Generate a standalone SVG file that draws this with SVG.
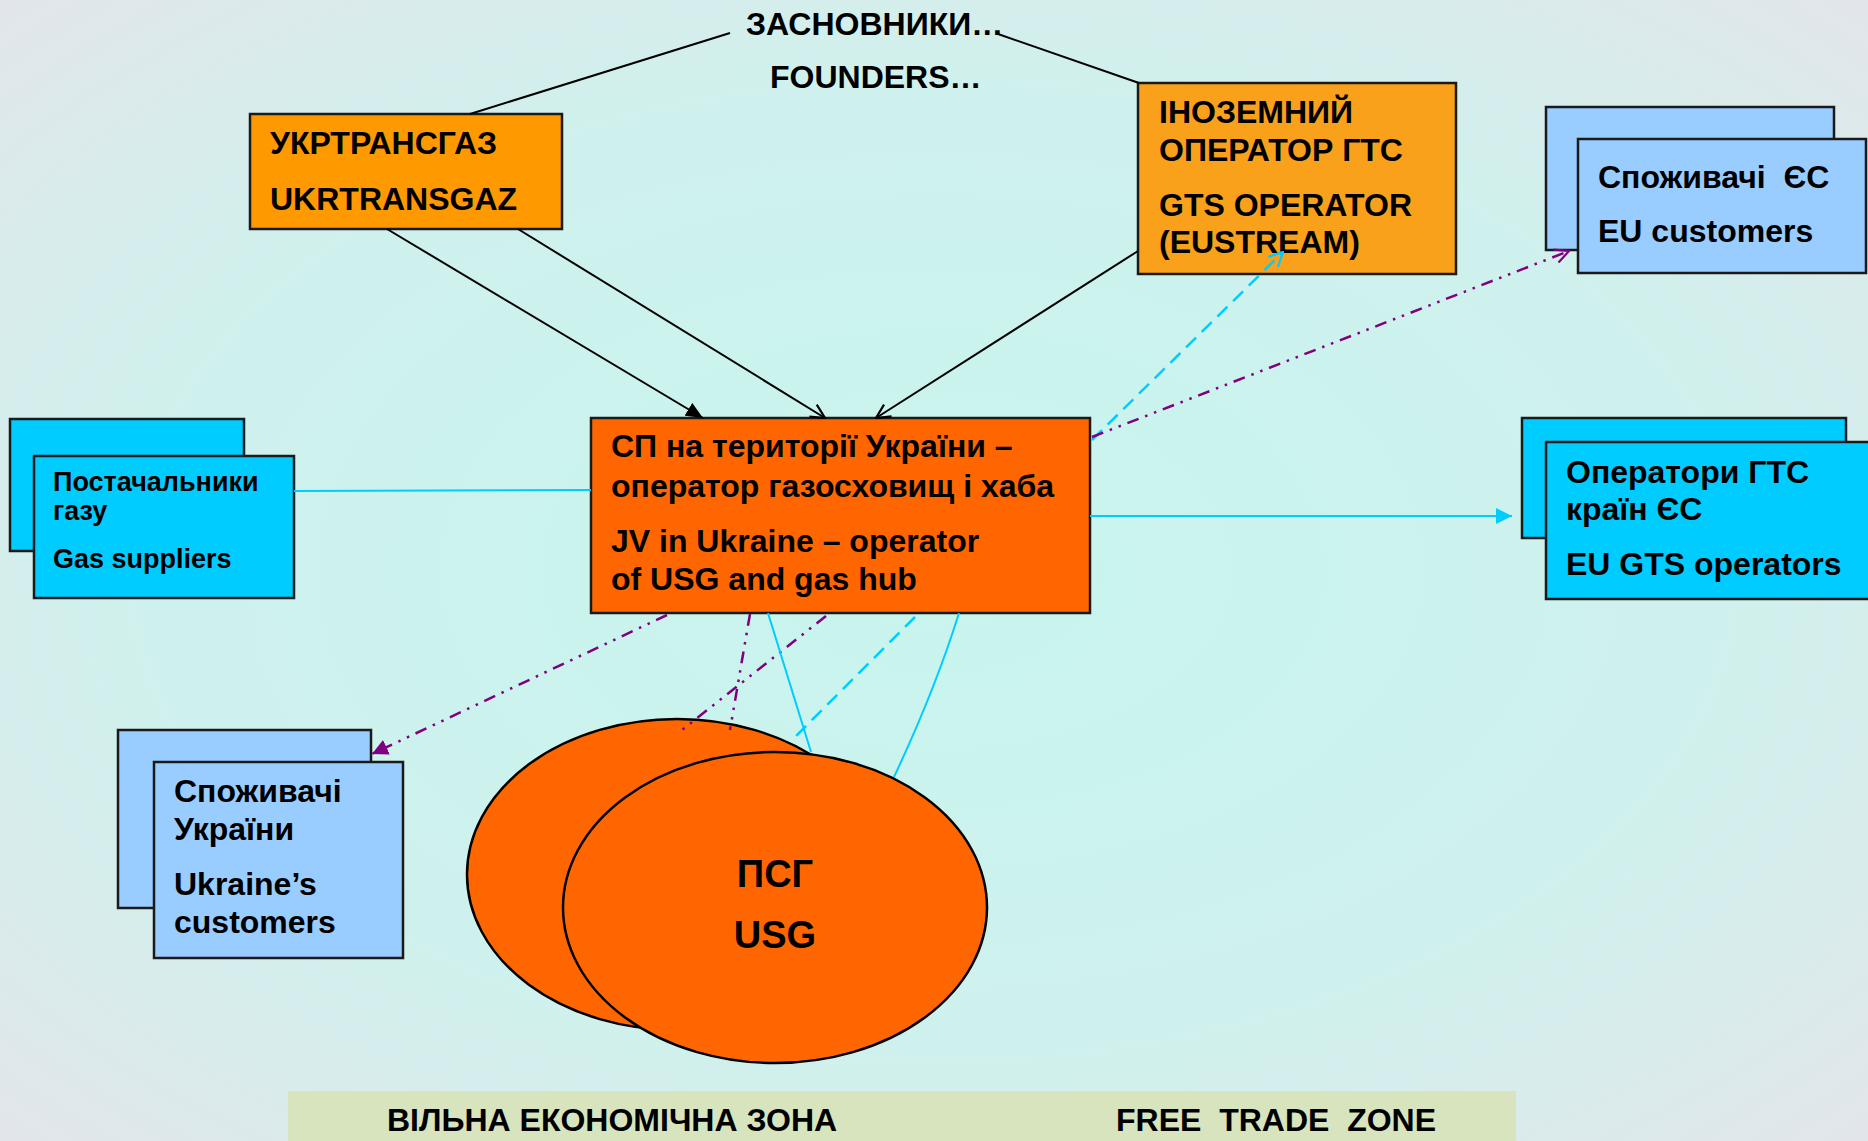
<svg xmlns="http://www.w3.org/2000/svg" width="1868" height="1141" viewBox="0 0 1868 1141">
<defs>
<radialGradient id="bg" cx="50%" cy="50%" r="70%">
<stop offset="0" stop-color="#c8f5ee"/>
<stop offset="0.6" stop-color="#cff1ed"/>
<stop offset="1" stop-color="#e2e6ea"/>
</radialGradient>
<marker id="fBlack" viewBox="0 0 16 14" refX="16" refY="7" markerWidth="17" markerHeight="15" orient="auto" markerUnits="userSpaceOnUse"><path d="M0,0 L16,7 L0,14 Z" fill="#000"/></marker>
<marker id="oBlack" viewBox="0 0 16 16" refX="15" refY="8" markerWidth="16" markerHeight="16" orient="auto" markerUnits="userSpaceOnUse"><path d="M1,1 L15,8 L1,15" fill="none" stroke="#000" stroke-width="2.2"/></marker>
<marker id="fCyan" viewBox="0 0 16 16" refX="16" refY="8" markerWidth="16" markerHeight="16" orient="auto" markerUnits="userSpaceOnUse"><path d="M0,0 L16,8 L0,16 Z" fill="#00ccff"/></marker>
<marker id="oCyan" viewBox="0 0 16 16" refX="15" refY="8" markerWidth="16" markerHeight="16" orient="auto" markerUnits="userSpaceOnUse"><path d="M1,1 L15,8 L1,15" fill="none" stroke="#00ccff" stroke-width="2.2"/></marker>
<marker id="oPurple" viewBox="0 0 16 16" refX="15" refY="8" markerWidth="16" markerHeight="16" orient="auto" markerUnits="userSpaceOnUse"><path d="M1,1 L15,8 L1,15" fill="none" stroke="#800080" stroke-width="2.2"/></marker>
<marker id="fPurple" viewBox="0 0 16 16" refX="16" refY="8" markerWidth="16" markerHeight="16" orient="auto" markerUnits="userSpaceOnUse"><path d="M0,0 L16,8 L0,16 Z" fill="#800080"/></marker>
</defs>
<style>
text{font-family:"Liberation Sans",Arial,sans-serif;font-weight:bold;fill:#000;white-space:pre}
.box{stroke:#1a1a1a;stroke-width:2.5}
.orange{fill:#ff9900}
.orange2{fill:#f9a11b}
.red{fill:#ff6600}
.blue{fill:#99ccff}
.cyan{fill:#00ccff}
.t32{font-size:32px}
.t27{font-size:27px}
.t38{font-size:38px}
.blk{stroke:#000;stroke-width:2;fill:none}
.cy{stroke:#00ccff;stroke-width:2;fill:none}
.cyd{stroke:#00ccff;stroke-width:2.5;fill:none;stroke-dasharray:14 8}
.pu{stroke:#800080;stroke-width:2.5;fill:none;stroke-dasharray:12 7 2.5 7 2.5 7}
</style>
<rect x="0" y="0" width="1868" height="1141" fill="url(#bg)"/>

<g id="title">
<text class="t32" x="746" y="35">ЗАСНОВНИКИ…</text>
<text class="t32" x="770" y="88">FOUNDERS…</text>
</g>

<g id="ukrtransgaz">
<rect class="box orange" x="250" y="114" width="312" height="115"/>
<text class="t32" x="270" y="154">УКРТРАНСГАЗ</text>
<text class="t32" x="270" y="210">UKRTRANSGAZ</text>
</g>

<g id="eustream">
<rect class="box orange2" x="1138" y="83" width="318" height="191"/>
<text class="t32" x="1159" y="123">ІНОЗЕМНИЙ</text>
<text class="t32" x="1159" y="161">ОПЕРАТОР ГТС</text>
<text class="t32" x="1159" y="216">GTS OPERATOR</text>
<text class="t32" x="1159" y="253">(EUSTREAM)</text>
</g>

<g id="eu-customers">
<rect class="box blue" x="1546" y="107" width="288" height="143"/>
<rect class="box blue" x="1578" y="139" width="288" height="134"/>
<text class="t32" x="1598" y="188">Споживачі  ЄС</text>
<text class="t32" x="1598" y="242">EU customers</text>
</g>

<g id="gas-suppliers">
<rect class="box cyan" x="10" y="419" width="234" height="132"/>
<rect class="box cyan" x="34" y="456" width="260" height="142"/>
<text class="t27" x="53" y="491">Постачальники</text>
<text class="t27" x="53" y="520">газу</text>
<text class="t27" x="53" y="568">Gas suppliers</text>
</g>

<g id="jv">
<rect class="box red" x="591" y="418" width="499" height="195"/>
<text class="t32" x="611" y="457">СП на території України –</text>
<text class="t32" x="611" y="497">оператор газосховищ і хаба</text>
<text class="t32" x="611" y="552">JV in Ukraine – operator</text>
<text class="t32" x="611" y="590">of USG and gas hub</text>
</g>

<g id="eu-gts-operators">
<rect class="box cyan" x="1522" y="418" width="324" height="120"/>
<rect class="box cyan" x="1546" y="442" width="324" height="157"/>
<text class="t32" x="1566" y="483">Оператори ГТС</text>
<text class="t32" x="1566" y="520">країн ЄС</text>
<text class="t32" x="1566" y="575">EU GTS operators</text>
</g>

<g id="ukraine-customers">
<rect class="box blue" x="118" y="730" width="253" height="178"/>
<rect class="box blue" x="154" y="762" width="249" height="196"/>
<text class="t32" x="174" y="802">Споживачі</text>
<text class="t32" x="174" y="840">України</text>
<text class="t32" x="174" y="895">Ukraine’s</text>
<text class="t32" x="174" y="933">customers</text>
</g>

<g id="usg">
<ellipse class="red" cx="677" cy="874.5" rx="210" ry="155.5" stroke="#000" stroke-width="2.5"/>
<ellipse class="red" cx="775" cy="907.5" rx="212" ry="155.5" stroke="#000" stroke-width="2.5"/>
<text class="t38" x="775" y="887" text-anchor="middle">ПСГ</text>
<text class="t38" x="775" y="948" text-anchor="middle">USG</text>
</g>

<g id="free-trade-zone">
<rect x="288" y="1091" width="1228" height="52" fill="#d7e4bd"/>
<text class="t32" x="387" y="1131">ВІЛЬНА ЕКОНОМІЧНА ЗОНА</text>
<text class="t32" x="1116" y="1131">FREE  TRADE  ZONE</text>
</g>

<g id="connectors">
<line class="blk" x1="730" y1="33" x2="470" y2="114"/>
<line class="blk" x1="998" y1="34" x2="1139" y2="83"/>
<line class="blk" x1="387" y1="229" x2="703" y2="418" marker-end="url(#fBlack)"/>
<line class="blk" x1="518" y1="229" x2="825" y2="418" marker-end="url(#oBlack)"/>
<line class="blk" x1="1138" y1="251" x2="876" y2="418" marker-end="url(#oBlack)"/>
<line class="cy" x1="294" y1="491" x2="591" y2="490"/>
<line class="cy" x1="1090" y1="516" x2="1512" y2="516" marker-end="url(#fCyan)"/>
<line class="cyd" x1="1092" y1="440" x2="1283" y2="252" marker-end="url(#oCyan)"/>
<line class="pu" x1="1092" y1="437" x2="1569" y2="251" marker-end="url(#oPurple)"/>
<line class="pu" x1="667" y1="615" x2="372" y2="754" marker-end="url(#fPurple)"/>
<line class="pu" x1="750" y1="614" x2="730" y2="730"/>
<line class="pu" x1="826" y1="616" x2="682" y2="730"/>
<line class="cy" x1="768" y1="613" x2="811" y2="752"/>
<line class="cyd" x1="915" y1="617" x2="795" y2="737"/>
<path class="cy" d="M959,613 Q935,690 894,777"/>
</g>
</svg>
